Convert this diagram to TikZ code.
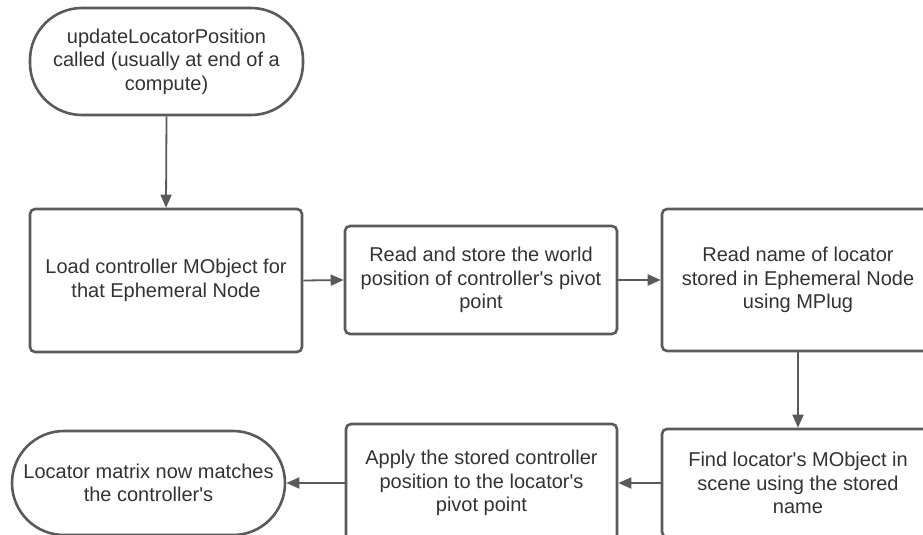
\documentclass[tikz,border=0pt]{standalone}
\usepackage{fontspec}
\setmainfont{Liberation Sans}
\usetikzlibrary{arrows.meta}
\definecolor{edge}{HTML}{5A5A5A}
\definecolor{ink}{HTML}{333333}
\newcommand{\apos}{\textquotesingle}
\tikzset{
  base/.style={draw=edge, line width=2.6pt, fill=white, text=ink, align=center,
    font=\fontsize{20}{23.5}\selectfont, inner sep=0pt},
  stepbox/.style={base, rounded corners=5pt},
  terminal/.style={base, rounded corners=52pt},
  flow/.style={draw=edge, line width=1.8pt, -{Triangle[length=13pt,width=11pt]}},
}
\begin{document}
\begin{tikzpicture}[x=1pt, y=-1pt]
  \useasboundingbox (0,0) rectangle (923,535);
  \clip (0,0) rectangle (923,535);
  \fill[white] (0,0) rectangle (923,535);

  \node[terminal, minimum width=273pt, minimum height=107pt] (start) at (166.5,61.5)
    {updateLocatorPosition\\called (usually at end of a\\compute)};
  \node[stepbox, minimum width=272pt, minimum height=143pt] (load) at (166,280.5)
    {Load controller MObject for\\that Ephemeral Node};
  \node[stepbox, minimum width=272pt, minimum height=108pt] (store) at (481,280)
    {Read and store the world\\position of controller\apos s pivot\\point};
  \node[stepbox, minimum width=272pt, minimum height=142pt] (name) at (798,280)
    {Read name of locator\\stored in Ephemeral Node\\using MPlug};
  \node[stepbox, minimum width=272pt, minimum height=108pt] (find) at (798,483)
    {Find locator\apos s MObject in\\scene using the stored\\name};
  \node[stepbox, minimum width=271pt, minimum height=118pt] (apply) at (481.5,483)
    {Apply the stored controller\\position to the locator\apos s\\pivot point};
  \node[terminal, minimum width=273pt, minimum height=104pt] (done) at (148.5,483)
    {Locator matrix now matches\\the controller\apos s};

  \draw[flow] (start.south) -- (load.north);
  \draw[flow] (load.east) -- (store.west);
  \draw[flow] (store.east) -- (name.west);
  \draw[flow] (name.south) -- (find.north);
  \draw[flow] (find.west) -- (apply.east);
  \draw[flow] (apply.west) -- (done.east);
\end{tikzpicture}
\end{document}
